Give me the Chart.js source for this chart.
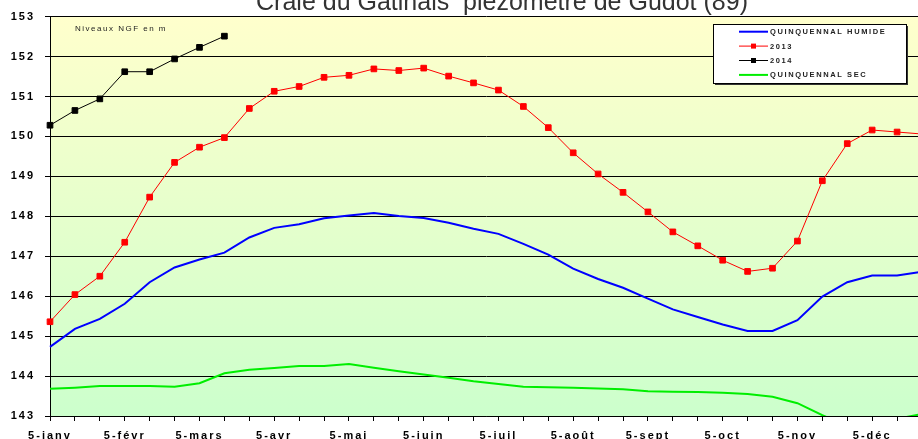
<!DOCTYPE html>
<html lang="fr">
<head>
<meta charset="utf-8">
<title>Craie du Gatinais piézomètre de Gudot (89)</title>
<script src="https://cdn.jsdelivr.net/npm/chart.js@4.4.1/dist/chart.umd.min.js"></script>
<style>
  html, body { margin: 0; padding: 0; background: #fff; overflow: hidden; }
  /* the plot runs a bit past the right edge of the window, like the original */
  .chart-wrap { position: relative; width: 930px; height: 446px; }
</style>
</head>
<body>
<div class="chart-wrap"><canvas id="gudot-chart"></canvas></div>
<script>
// Data
const months = ['janv', 'févr', 'mars', 'avr', 'mai', 'juin', 'juil', 'août', 'sept', 'oct', 'nov', 'déc'];
const days = [5, 15, 25];
const categories = months.flatMap((m) => days.map((d) => `${d}-${m}`));

const chartTitle = 'Craie du Gatinais  piézomètre de Gudot (89)';
const unitNote = 'Niveaux NGF en m';

const quinquennalHumide = [
  144.73, 145.18, 145.43, 145.81, 146.35, 146.72, 146.92, 147.09, 147.47, 147.71, 147.80, 147.95,
  148.02, 148.08, 148.01, 147.96, 147.84, 147.69, 147.56, 147.31, 147.04, 146.69, 146.43, 146.21,
  145.94, 145.67, 145.48, 145.29, 145.13, 145.13, 145.40, 145.99, 146.35, 146.52, 146.52, 146.61,
];
const niveaux2013 = [
  145.36, 146.04, 146.50, 147.35, 148.48, 149.35, 149.73, 149.97, 150.70, 151.13, 151.25, 151.48,
  151.53, 151.69, 151.65, 151.71, 151.51, 151.34, 151.16, 150.75, 150.22, 149.59, 149.06, 148.60,
  148.11, 147.61, 147.26, 146.90, 146.62, 146.70, 147.38, 148.89, 149.82, 150.16, 150.11, 150.06,
];
const niveaux2014 = [150.28, 150.65, 150.94, 151.62, 151.62, 151.94, 152.23, 152.51];
const quinquennalSec = [
  143.68, 143.71, 143.75, 143.75, 143.75, 143.73, 143.82, 144.07, 144.16, 144.20, 144.25, 144.25,
  144.30, 144.21, 144.12, 144.04, 143.96, 143.87, 143.80, 143.73, 143.72, 143.71, 143.69, 143.67,
  143.62, 143.61, 143.60, 143.58, 143.55, 143.48, 143.32, 143.02, 142.75, 142.70, 142.93, 143.05,
];

const yMin = 143;
const yMax = 153;

// Chart.js defaults
Chart.defaults.font.family = 'Arial, "Liberation Sans", sans-serif';
Chart.defaults.color = '#000';

// Wide letter spacing on the axis labels (Excel look)
const spacedText = {
  id: 'spacedText',
  beforeUpdate(c) { c.ctx.letterSpacing = '2px'; },
  beforeDraw(c) { c.ctx.letterSpacing = '2px'; },
};

// Yellow to green plot background
const plotBackground = {
  id: 'plotBackground',
  beforeDraw(c) {
    const { ctx, chartArea: a } = c;
    const g = ctx.createLinearGradient(0, a.top, 0, a.bottom);
    g.addColorStop(0, '#ffffcc');
    g.addColorStop(1, '#ccffcc');
    ctx.save();
    ctx.fillStyle = g;
    ctx.fillRect(a.left, a.top, a.right - a.left, a.bottom - a.top);
    ctx.restore();
  },
};

// Title, unit note and the boxed legend
const headerAndKey = {
  id: 'headerAndKey',
  afterDraw(c) {
    const ctx = c.ctx;
    ctx.save();

    // title is cut by the top of the window in the original
    ctx.letterSpacing = '0px';
    ctx.fillStyle = '#333';
    ctx.font = '25px Arial, "Liberation Sans", sans-serif';
    ctx.textAlign = 'center';
    ctx.textBaseline = 'alphabetic';
    ctx.fillText(chartTitle, 502, 10);

    ctx.letterSpacing = '1.5px';
    ctx.font = '8px Arial, "Liberation Sans", sans-serif';
    ctx.textAlign = 'left';
    ctx.textBaseline = 'middle';
    ctx.fillStyle = '#222';
    ctx.fillText(unitNote, 75, 29);

    // legend box with shadow
    const bx = 713.5;
    const by = 24.5;
    const bw = 193;
    const bh = 59;
    ctx.fillStyle = '#333';
    ctx.fillRect(bx + 1.5, by + 1.5, bw, bh);
    ctx.fillStyle = '#fff';
    ctx.fillRect(bx, by, bw, bh);
    ctx.strokeStyle = '#000';
    ctx.lineWidth = 1;
    ctx.strokeRect(bx, by, bw, bh);

    ctx.font = 'bold 7.5px Arial, "Liberation Sans", sans-serif';
    ctx.letterSpacing = '1.6px';
    c.data.datasets.forEach((ds, i) => {
      const y = 31.7 + i * 14.4;
      ctx.strokeStyle = ds.borderColor;
      ctx.lineWidth = ds.borderWidth;
      ctx.beginPath();
      ctx.moveTo(739, y);
      ctx.lineTo(768, y);
      ctx.stroke();
      if (ds.pointRadius > 0) {
        ctx.fillStyle = ds.pointBackgroundColor;
        ctx.fillRect(751, y - 2.5, 5, 5);
      }
      ctx.fillStyle = '#222';
      ctx.fillText(ds.label, 770, y + 0.5);
    });

    ctx.restore();
  },
};

const makeChart = () => {
  const ctx = document.getElementById('gudot-chart');
  if (!ctx) return null;

  return new Chart(ctx, {
    type: 'line',
    data: {
      labels: categories,
      datasets: [
        {
          label: 'QUINQUENNAL HUMIDE',
          data: quinquennalHumide,
          borderColor: '#0000ff',
          borderWidth: 2,
          pointRadius: 0,
        },
        {
          label: '2013',
          data: niveaux2013,
          borderColor: '#ff0000',
          borderWidth: 1,
          pointStyle: 'rect',
          pointRadius: 4,
          pointBorderWidth: 1,
          pointBackgroundColor: '#ff0000',
          pointBorderColor: '#ff0000',
        },
        {
          label: '2014',
          data: niveaux2014,
          borderColor: '#000000',
          borderWidth: 1,
          pointStyle: 'rect',
          pointRadius: 4,
          pointBorderWidth: 1,
          pointBackgroundColor: '#000000',
          pointBorderColor: '#000000',
        },
        {
          label: 'QUINQUENNAL SEC',
          data: quinquennalSec,
          borderColor: '#00ee00',
          borderWidth: 2,
          pointRadius: 0,
        },
      ],
    },
    options: {
      responsive: true,
      maintainAspectRatio: false,
      animation: false,
      layout: {
        padding: { top: 15, left: 0, right: 5, bottom: 0 },
      },
      scales: {
        x: {
          type: 'category',
          offset: false,
          grid: {
            drawOnChartArea: false,
            drawTicks: true,
            tickLength: 5,
            color: '#000',
          },
          border: { color: '#000', width: 1 },
          ticks: {
            autoSkip: false,
            maxRotation: 0,
            padding: 8,
            font: { size: 11, weight: 'bold' },
            callback: (v, i) => (i % 3 === 0 ? categories[i] : ''),
          },
          afterFit: (s) => { s.height = 30; },
        },
        y: {
          min: yMin,
          max: yMax,
          grid: {
            color: '#000',
            lineWidth: 1,
            tickLength: 5,
          },
          border: { color: '#000', width: 1 },
          ticks: {
            stepSize: 1,
            padding: 10,
            font: { size: 11, weight: 'bold' },
          },
          afterFit: (s) => { s.width = 50; },
        },
      },
      plugins: {
        legend: { display: false },
        title: { display: false },
        tooltip: { enabled: false },
      },
    },
    plugins: [spacedText, plotBackground, headerAndKey],
  });
};

makeChart();
</script>
</body>
</html>
